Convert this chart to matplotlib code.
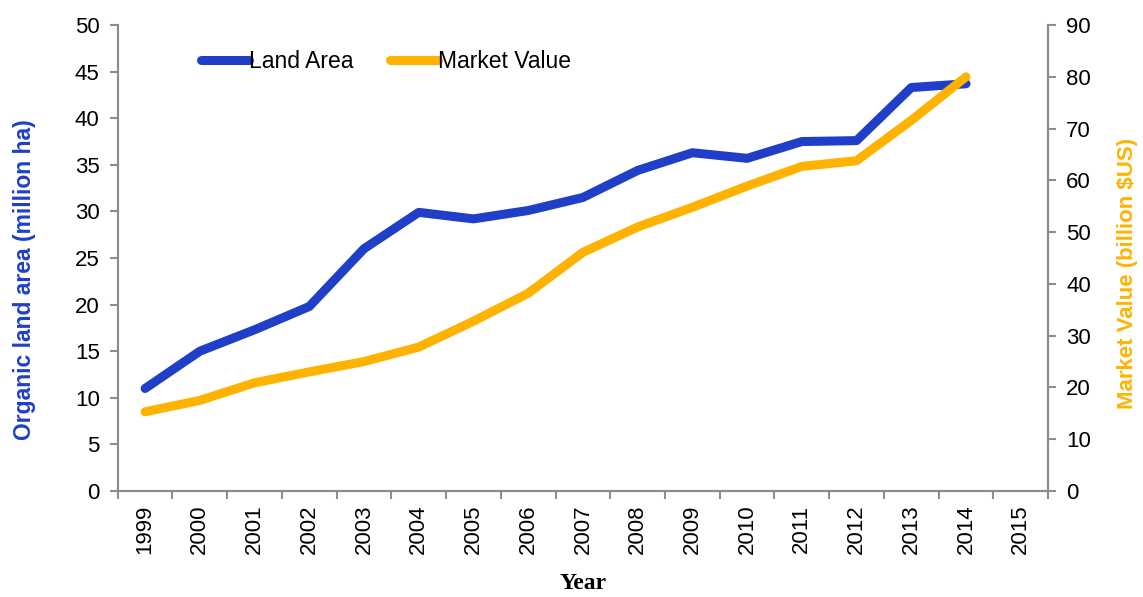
import numpy as np
import matplotlib.pyplot as plt
from matplotlib.ticker import FixedLocator, NullFormatter

# Datos
years = [str(y) for y in range(1999, 2016)]
land_area = [11.0, 15.0, 17.3, 19.8, 26.0, 29.9, 29.2, 30.1, 31.5, 34.4,
             36.3, 35.7, 37.5, 37.6, 43.3, 43.7]
market_value = [15.3, 17.5, 20.9, 23.0, 25.0, 27.8, 32.8, 38.2, 46.1, 51.0,
                54.8, 58.9, 62.7, 63.8, 71.6, 80.0]

blue = "#1f3fc8"
orange = "#ffb300"
gray = "#8c8c8c"

plt.rcParams['font.family'] = ['Liberation Sans', 'DejaVu Sans']

fig = plt.figure(figsize=(11.43, 5.97), dpi=100)
ax1 = fig.add_axes([0.103, 0.1776, 0.814, 0.7804])
ax2 = ax1.twinx()

x = np.arange(len(land_area))
l1, = ax1.plot(x, land_area, color=blue, lw=6.5, solid_capstyle='round',
               solid_joinstyle='round', label="Land Area")
l2, = ax2.plot(x, market_value, color=orange, lw=6.5, solid_capstyle='round',
               solid_joinstyle='round', label="Market Value")

ax1.set_xlim(-0.5, len(years) - 0.5)
ax1.set_ylim(0, 50)
ax2.set_ylim(0, 90)
ax1.set_yticks(np.arange(0, 51, 5))
ax2.set_yticks(np.arange(0, 91, 10))

# ticks entre categorias, etiquetas en el centro
ax1.xaxis.set_major_locator(FixedLocator(np.arange(-0.5, len(years), 1)))
ax1.xaxis.set_major_formatter(NullFormatter())
ax1.xaxis.set_minor_locator(FixedLocator(np.arange(len(years))))
ax1.set_xticklabels(years, minor=True, rotation=90)
ax1.tick_params(axis='x', which='minor', length=0, pad=10, labelsize=16)
ax1.tick_params(axis='x', which='major', length=6, width=1.5, color=gray)
ax1.tick_params(axis='y', length=6, width=1.5, color=gray, labelsize=16, pad=7)
ax2.tick_params(axis='y', length=6, width=1.5, color=gray, labelsize=16, pad=7)

for a in (ax1, ax2):
    a.spines['top'].set_visible(False)
    for s in ('left', 'right', 'bottom'):
        a.spines[s].set_color(gray)
        a.spines[s].set_linewidth(1.5)

ax1.set_ylabel("Organic land area (million ha)", color=blue, fontsize=16.5,
               fontweight='bold')
ax1.yaxis.set_label_coords(-0.088, 0.453)
ax2.set_ylabel("Market Value (billion $US)", color=orange, fontsize=16,
               fontweight='bold')
ax2.yaxis.set_label_coords(1.074, 0.466)
ax1.set_xlabel("Year", family=['Liberation Serif'], fontsize=17,
               fontweight='bold')
ax1.xaxis.set_label_coords(0.5, -0.176)

ax1.legend(handles=[l1, l2], loc='upper left', bbox_to_anchor=(0.067, 0.99),
           ncol=2, frameon=False, fontsize=16.5, handlelength=2.1,
           handletextpad=0.0, columnspacing=1.6)

fig.savefig("out.png", dpi=100)
